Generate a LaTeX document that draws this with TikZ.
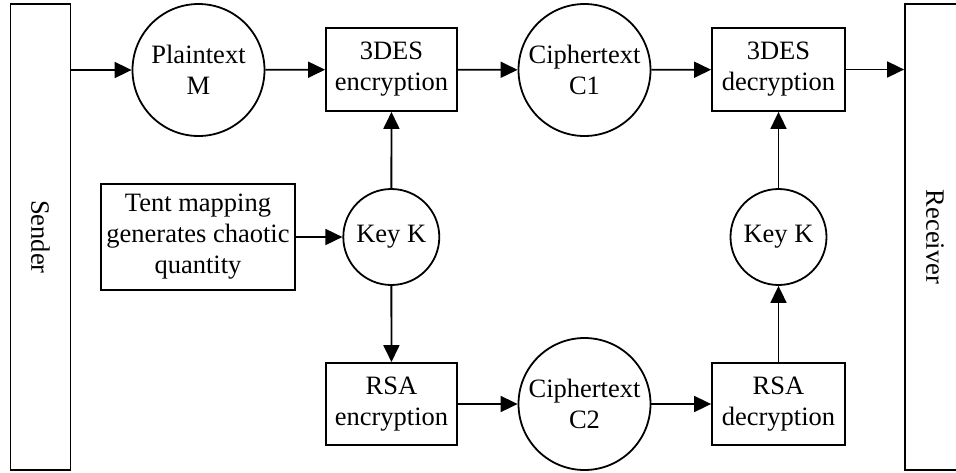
\documentclass[tikz,border=0pt]{standalone}
\usepackage{fontspec}
\setmainfont{Liberation Serif}
\usetikzlibrary{arrows.meta}
\begin{document}
\begin{tikzpicture}[x=1pt,y=-1pt,
  every node/.style={font=\fontsize{26.5}{31}\selectfont, align=center, inner sep=0pt, line width=1.8pt},
  box/.style={draw, rectangle},
  bigc/.style={draw, circle, minimum size=132pt},
  keyc/.style={draw, circle, minimum size=96pt},
  side/.style={draw, rectangle, minimum width=60pt, minimum height=466pt},
  arr/.style={line width=1.8pt, -{Triangle[length=17pt,width=16pt]}}]
\useasboundingbox (0,0) rectangle (956,472);
\clip (0,0) rectangle (956,472);
\node[side] (snd) at (40.5,237) {};
\node[rotate=-90] at (snd.center) {Sender};
\node[side] (rcv) at (935,237) {};
\node[rotate=-90] at (rcv.center) {Receiver};
\node[bigc] (pm) at (198.5,70) {Plaintext\\M};
\node[box, minimum width=131pt, minimum height=83pt] (enc) at (391.5,69.5) {3DES\\encryption};
\node[bigc] (c1) at (584.5,70) {Ciphertext\\C1};
\node[box, minimum width=133pt, minimum height=83pt] (dec) at (778.5,69.5) {3DES\\decryption};
\node[box, minimum width=194pt, minimum height=106pt] (tent) at (198,237) {Tent mapping\\generates chaotic\\quantity};
\node[keyc] (kl) at (391.3,237) {Key K};
\node[keyc] (kr) at (778.5,237) {Key K};
\node[box, minimum width=131pt, minimum height=82pt] (renc) at (391.5,404) {RSA\\encryption};
\node[bigc] (c2) at (584.5,404) {Ciphertext\\C2};
\node[box, minimum width=133pt, minimum height=82pt] (rdec) at (778.5,404) {RSA\\decryption};
\draw[arr] (snd.east |- pm) -- (pm);
\draw[arr] (pm) -- (enc);
\draw[arr] (enc) -- (c1);
\draw[arr] (c1) -- (dec);
\draw[arr] (dec) -- (rcv.west |- dec);
\draw[arr] (tent) -- (kl);
\draw[arr] (kl) -- (enc);
\draw[arr] (kl) -- (renc);
\draw[arr] (renc) -- (c2);
\draw[arr] (c2) -- (rdec);
\draw[arr] (rdec) -- (kr);
\draw[arr] (kr) -- (dec);
\end{tikzpicture}
\end{document}
